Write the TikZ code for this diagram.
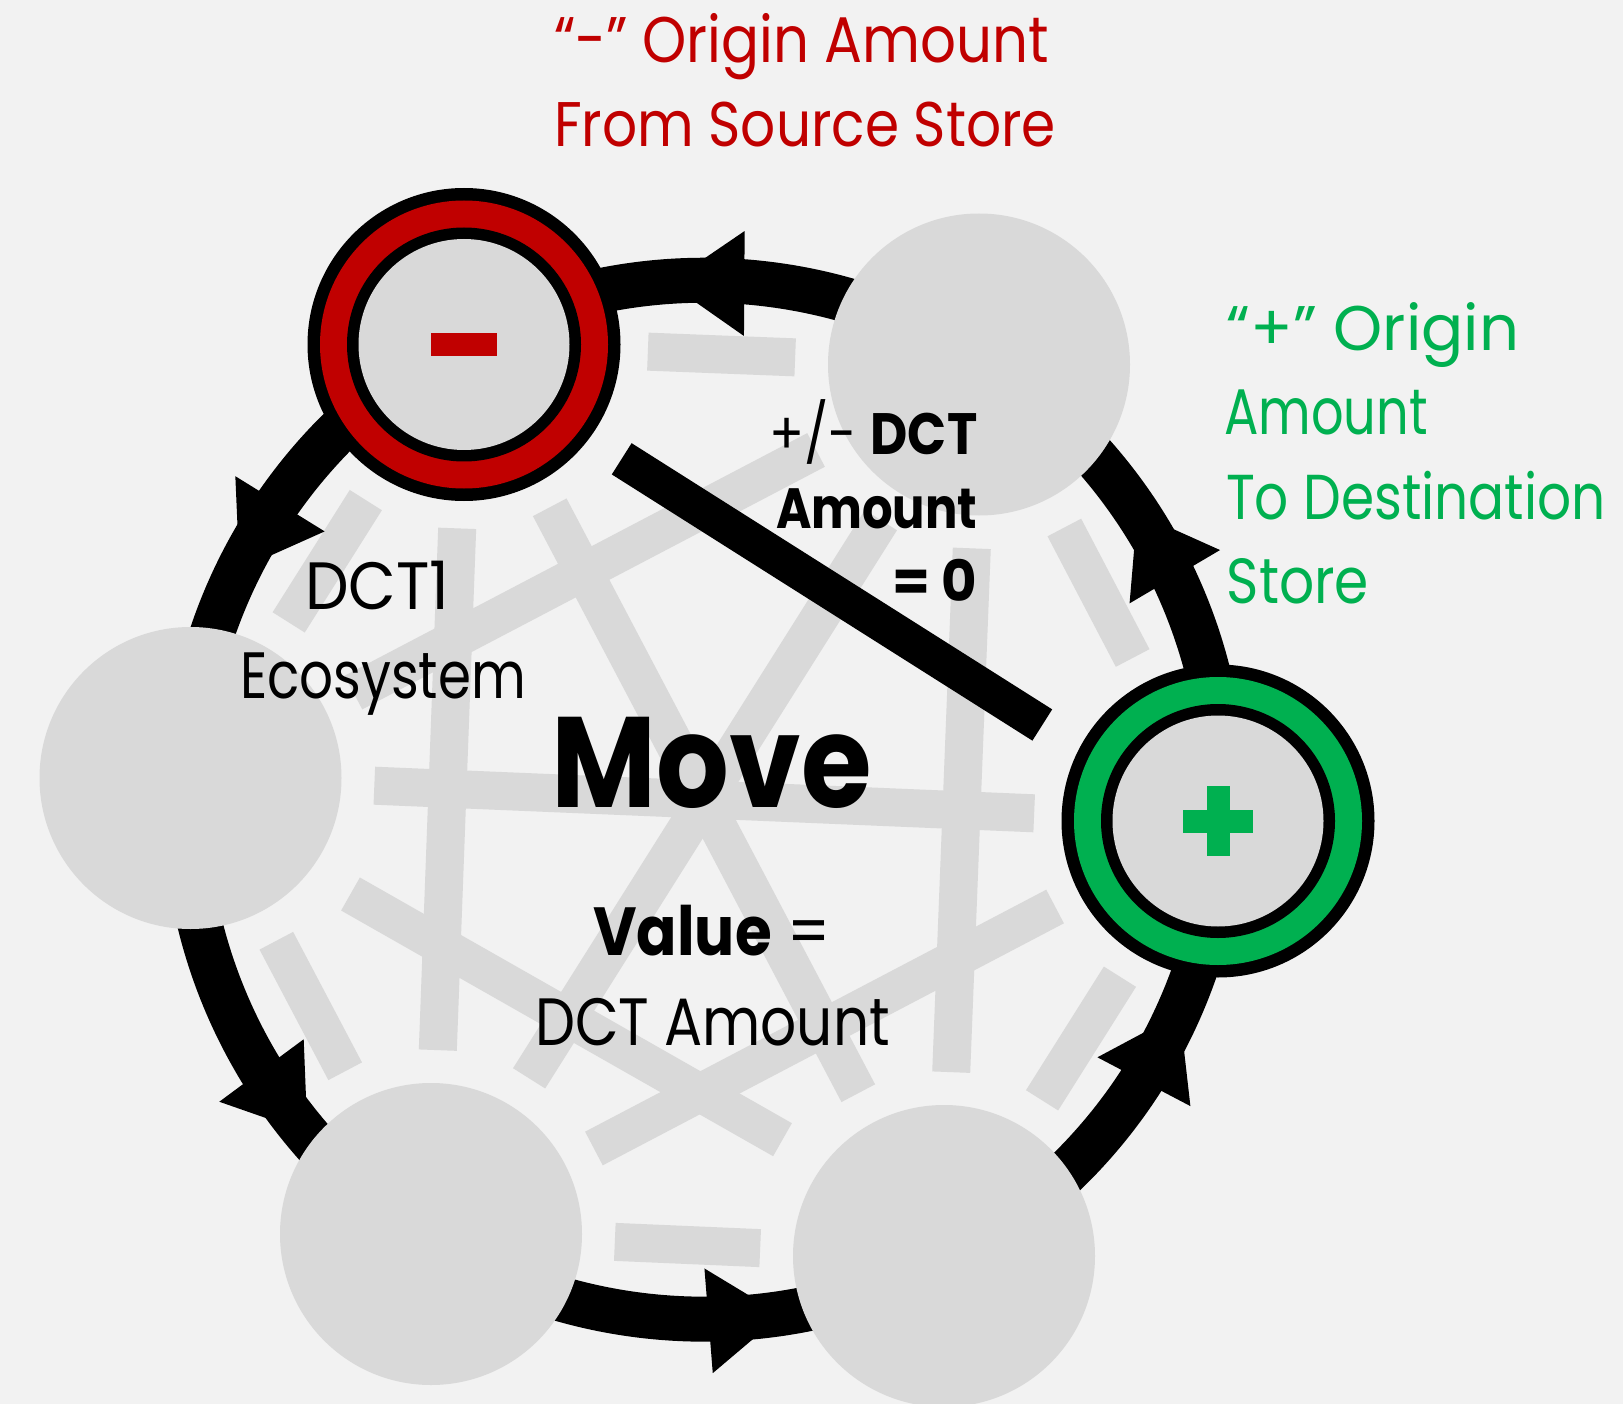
\documentclass[tikz,border=0pt]{standalone}
\usepackage{fontspec}
\setmainfont{Poppins}
\usepackage{graphicx}
\usetikzlibrary{calc}
\definecolor{bgcol}{HTML}{F2F2F2}
\definecolor{circgrey}{HTML}{D9D9D9}
\definecolor{dctred}{HTML}{C00000}
\definecolor{dctgreen}{HTML}{00B050}
\pgfdeclarelayer{bglayer}
\pgfdeclarelayer{bars}
\pgfsetlayers{bglayer,bars,main}
\newlength\fitwd
\newlength\fitht
\newcommand\fitline[3]{%
  \settowidth\fitwd{#3}%
  \setlength\fitht{\fontcharht\font`H}%
  \pgfmathsetmacro\fitsx{#1/\fitwd}%
  \pgfmathsetmacro\fitsy{#2/\fitht}%
  \scalebox{\fitsx}[\fitsy]{#3}}
\newcommand\ahead[2]{\fill[black] ($(#1)!52.5pt!90:(#2)$) -- (#2) -- ($(#1)!52.5pt!-90:(#2)$) -- cycle;}
\tikzset{
  greycirc/.style={circle, fill=circgrey, minimum size=302pt, inner sep=0pt, outer sep=0pt},
  ringcirc/.style={circle, fill=black, minimum size=313pt, inner sep=0pt, outer sep=0pt},
  greybar/.style={draw=circgrey, line width=38pt},
  blackbar/.style={draw=black, line width=37pt},
  cycarc/.style={draw=black, line width=45pt},
  lbl/.style={inner sep=0pt, outer sep=0pt, anchor=base west},
}
\begin{document}
\begin{tikzpicture}[x=1pt,y=-1pt]
\begin{pgfonlayer}{bglayer}
\fill[bgcol] (0,0) rectangle (1623,1404);
\end{pgfonlayer}
\useasboundingbox (0,0) rectangle (1623,1404);

% store nodes
\node[ringcirc] (R) at (464,344.5) {};
\node[greycirc] (T) at (979,364.5) {};
\node[ringcirc] (G) at (1218,821) {};
\node[greycirc] (B) at (944,1256) {};
\node[greycirc] (BL) at (431,1234) {};
\node[greycirc] (W) at (190.5,778) {};
\coordinate (C) at (704.3,799.7);

% rings
\fill[dctred] (R.center) circle[radius=144];
\fill[black] (R.center) circle[radius=117];
\fill[circgrey] (R.center) circle[radius=105.5];
\fill[dctred] ($(R.center)+(-33,-11.5)$) rectangle ($(R.center)+(33,11.5)$);
\fill[dctgreen] (G.center) circle[radius=144];
\fill[black] (G.center) circle[radius=117];
\fill[circgrey] (G.center) circle[radius=105.5];
\fill[dctgreen] ($(G.center)+(-35,-11.5)$) rectangle ($(G.center)+(35,11.5)$);
\fill[dctgreen] ($(G.center)+(-11.5,-35)$) rectangle ($(G.center)+(11.5,35)$);

\begin{pgfonlayer}{bars}
\foreach \a/\b in {R/T,T/G,G/B,B/BL,BL/W,W/R,T/B,G/BL,BL/R,W/T,R/B,T/BL,G/W}
  \draw[greybar] ($(\a)!184pt!(\b)$) -- ($(\b)!184pt!(\a)$);
\coordinate (wb1) at (350.5,894);
\coordinate (wb2) at (782.5,1139.7);
\draw[greybar] (wb1) -- (wb2);
\coordinate (rg1) at (621.7,458.8);
\coordinate (rg2) at (1042.3,725);
\draw[blackbar] (rg1) -- (rg2);
% cycle arcs
\draw[cycarc] ($(C)!519.5pt!(R)$) arc[start angle=242.17, end angle=182.42, radius=519.5];
\draw[cycarc] ($(C)!519.5pt!(W)$) arc[start angle=182.42, end angle=122.18, radius=519.5];
\draw[cycarc] ($(C)!519.5pt!(BL)$) arc[start angle=122.18, end angle=62.29, radius=519.5];
\draw[cycarc] ($(C)!519.5pt!(B)$) arc[start angle=62.29, end angle=2.37, radius=519.5];
\draw[cycarc] ($(C)!519.5pt!(G)$) arc[start angle=2.37, end angle=-57.74, radius=519.5];
\draw[cycarc] ($(C)!519.5pt!(T)$) arc[start angle=-57.74, end angle=-117.83, radius=519.5];
% arrowheads
\coordinate (h1b) at (744.3,283.5);  \coordinate (h1t) at (668.4,283);
\coordinate (h2b) at (280,503.8);    \coordinate (h2t) at (239.4,569.5);
\coordinate (h3b) at (261.5,1070.5); \coordinate (h3t) at (307.4,1132.5);
\coordinate (h4b) at (708.6,1320.8); \coordinate (h4t) at (781.4,1315);
\coordinate (h5b) at (1143.9,1081.7);\coordinate (h5t) at (1179.8,1013.3);
\coordinate (h6b) at (1174.8,576.7); \coordinate (h6t) at (1137.2,512.9);
\ahead{h1b}{h1t}
\ahead{h2b}{h2t}
\ahead{h3b}{h3t}
\ahead{h4b}{h4t}
\ahead{h5b}{h5t}
\ahead{h6b}{h6t}
\end{pgfonlayer}

% texts
\node[lbl] (tr1) at (554,62.3) {\fontsize{60}{72}\selectfont\color{dctred}\fitline{495pt}{45pt}{“-” Origin Amount}};
\node[lbl] (tr2) at (554,146.7) {\fontsize{60}{72}\selectfont\color{dctred}\fitline{502pt}{44pt}{From Source Store}};
\node[lbl] (tg1) at (1226.7,350.7) {\fontsize{60}{72}\selectfont\color{dctgreen}\fitline{292.3pt}{44pt}{“+” Origin}};
\node[lbl] (tg2) at (1224.3,435) {\fontsize{60}{72}\selectfont\color{dctgreen}\fitline{203.4pt}{45pt}{Amount}};
\node[lbl] (tg3) at (1226,519.3) {\fontsize{60}{72}\selectfont\color{dctgreen}\fitline{379.7pt}{44.3pt}{To Destination}};
\node[lbl] (tg4) at (1226.7,603.5) {\fontsize{60}{72}\selectfont\color{dctgreen}\fitline{142.3pt}{44.5pt}{Store}};
\node[lbl] (tk1) at (769.3,454) {\fontsize{60}{72}\selectfont\fitline{208pt}{40.7pt}{+/- \textbf{DCT}}};
\node[lbl] (tk2) at (776,528.3) {\fontsize{60}{72}\selectfont\bfseries\fitline{201.3pt}{40pt}{Amount}};
\node[lbl] (tk3) at (892.3,601.5) {\fontsize{60}{72}\selectfont\bfseries\fitline{85pt}{40pt}{= 0}};
\node[lbl] (te1) at (305,609.3) {\fontsize{60}{72}\selectfont\fitline{144.3pt}{46.7pt}{DCT1}};
\node[lbl] (te2) at (240,698.3) {\fontsize{60}{72}\selectfont\fitline{286pt}{45.7pt}{Ecosystem}};
\node[lbl] (tm) at (551.7,807.3) {\fontsize{120}{140}\selectfont\bfseries\fitline{320pt}{90.7pt}{Move}};
\node[lbl] (tv1) at (593.3,955) {\fontsize{60}{72}\selectfont\fitline{237.4pt}{47.5pt}{\textbf{Value} =}};
\node[lbl] (tv2) at (535,1045) {\fontsize{60}{72}\selectfont\fitline{355pt}{46.7pt}{DCT Amount}};
\end{tikzpicture}
\end{document}
